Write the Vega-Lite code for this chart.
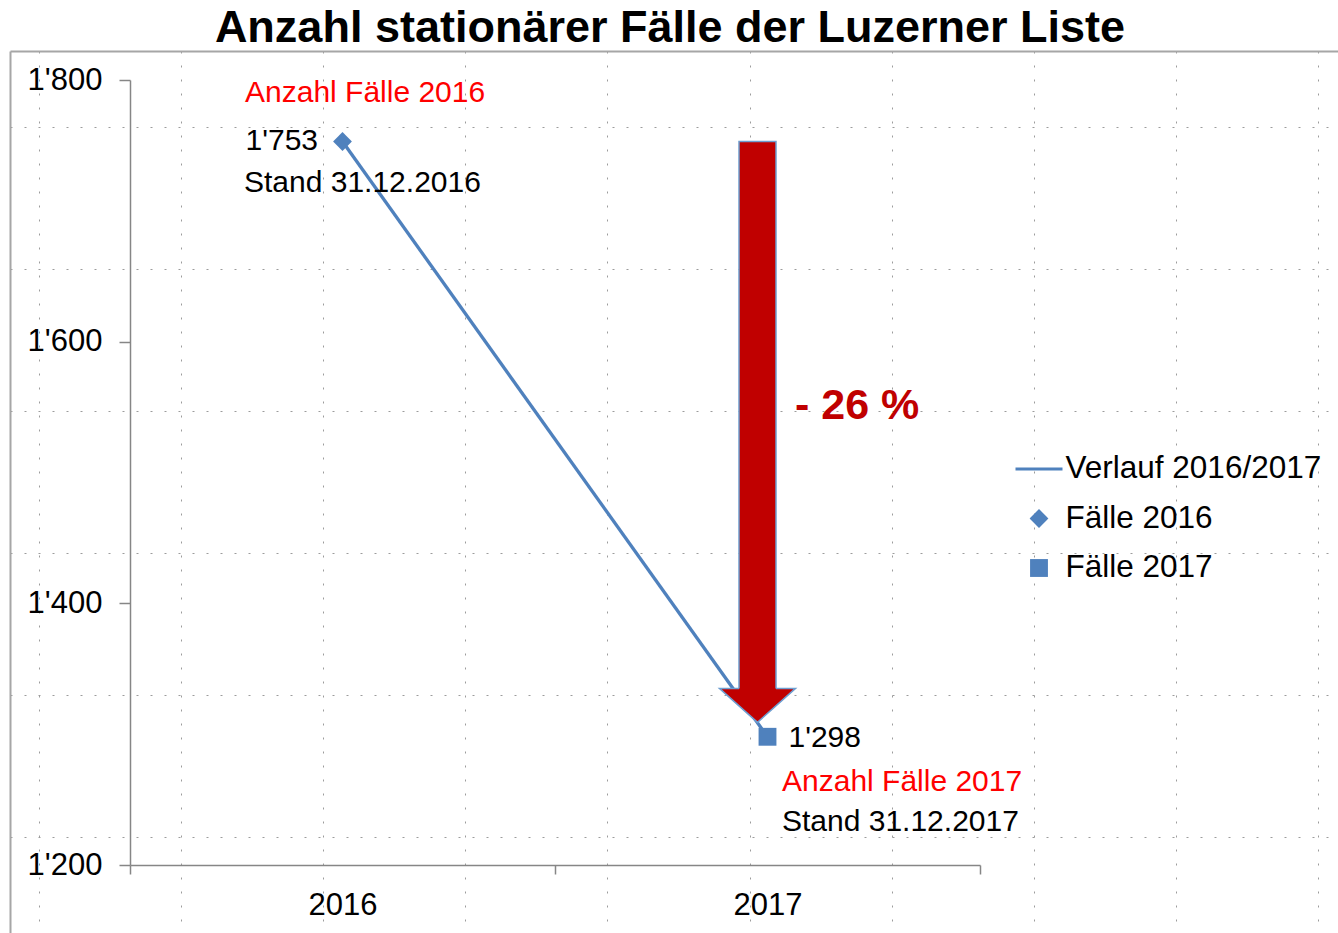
{
  "$schema": "https://vega.github.io/schema/vega-lite/v6.json",
  "width": 1328,
  "height": 882,
  "autosize": {"type": "none"},
  "padding": {"left": 10, "top": 51, "right": 0, "bottom": 0},
  "background": "white",
  "title": {"text": "Anzahl stationärer Fälle der Luzerner Liste", "font": "Liberation Sans", "fontSize": 45, "fontWeight": "bold", "color": "#000000", "anchor": "middle", "dx": -4, "dy": 35.5, "baseline": "alphabetic", "offset": 0},
  "datasets": {
    "paper": [{"col": 0, "row": 0}],
    "cases": [
      {"year": "2016", "cases": 1753, "series": "Fälle 2016", "heading": "Anzahl Fälle 2016", "stand": "Stand 31.12.2016"},
      {"year": "2017", "cases": 1298, "series": "Fälle 2017", "heading": "Anzahl Fälle 2017", "stand": "Stand 31.12.2017"}
    ],
    "arrow": [{"year": "2017", "start": 1753, "end": 1333, "tip": 1309, "label": "- 26 %"}]
  },
  "layer": [
    {
      "data": {"name": "paper"},
      "mark": {"type": "point", "opacity": 0},
      "encoding": {
        "x": {"field": "col", "type": "quantitative", "scale": {"domain": [-0.2041, 9.1414], "nice": false, "zero": false},
              "axis": {"orient": "top", "values": [0,1,2,3,4,5,6,7,8,9], "grid": true, "gridDash": [2, 12], "gridColor": "#9c9c9c", "gridWidth": 1, "labels": false, "ticks": false, "domain": true, "domainColor": "#a6a6a6", "domainWidth": 2, "title": null}},
        "y": {"field": "row", "type": "quantitative", "scale": {"domain": [-0.5352, 5.676], "nice": false, "zero": false, "reverse": true},
              "axis": {"orient": "left", "values": [0,1,2,3,4,5], "grid": true, "gridDash": [2, 12], "gridColor": "#9c9c9c", "gridWidth": 1, "labels": false, "ticks": false, "domain": true, "domainColor": "#a6a6a6", "domainWidth": 2, "title": null}}
      }
    },
    {
      "encoding": {
        "x": {"field": "year", "type": "nominal", "scale": {"type": "band", "domain": ["2016", "2017"], "range": [120, 970], "paddingInner": 0, "paddingOuter": 0},
              "axis": {"orient": "bottom", "offset": -68, "title": null, "labelAngle": 0, "tickBand": "extent", "tickSize": 9, "labelPadding": 16.5, "labelFontSize": 31, "labelFont": "Liberation Sans", "labelColor": "#000000", "domainColor": "#868686", "tickColor": "#868686", "domainWidth": 1.5, "tickWidth": 1.5, "grid": false}}
      },
      "layer": [
        {
          "data": {"name": "cases"},
          "mark": {"type": "line", "color": "#4F81BD", "strokeWidth": 3.3},
          "encoding": {
            "y": {"field": "cases", "type": "quantitative", "scale": {"domain": [1200, 1800], "range": [814, 29], "nice": false, "zero": false},
                  "axis": {"orient": "left", "offset": -120, "values": [1200, 1400, 1600, 1800], "format": ",d", "title": null, "tickSize": 11, "labelPadding": 17, "labelFontSize": 31, "labelFont": "Liberation Sans", "labelColor": "#000000", "domainColor": "#868686", "tickColor": "#868686", "domainWidth": 1.5, "tickWidth": 1.5, "grid": false}}
          }
        },
        {
          "data": {"name": "cases"},
          "mark": {"type": "point", "filled": true, "opacity": 1, "color": "#4F81BD", "size": 2209},
          "encoding": {
            "y": {"field": "cases", "type": "quantitative", "scale": {"domain": [1200, 1800], "range": [814, 29], "nice": false, "zero": false},
                  "axis": {"orient": "left", "offset": -120, "values": [1200, 1400, 1600, 1800], "format": ",d", "title": null, "tickSize": 11, "labelPadding": 17, "labelFontSize": 31, "labelFont": "Liberation Sans", "labelColor": "#000000", "domainColor": "#868686", "tickColor": "#868686", "domainWidth": 1.5, "tickWidth": 1.5, "grid": false}},
            "shape": {"field": "series", "type": "nominal",
                      "scale": {"domain": ["Verlauf 2016/2017", "Fälle 2016", "Fälle 2017"], "range": ["M-1,-0.068L1,-0.068L1,0.068L-1,0.068Z", "M0,-0.4L0.4,0L0,0.4L-0.4,0Z", "M-0.38,-0.38L0.38,-0.38L0.38,0.38L-0.38,0.38Z"]},
                      "legend": {"title": null, "orient": "none", "legendX": 1005.5, "legendY": 394.5, "padding": 0, "symbolSize": 2209, "labelOffset": 3, "rowPadding": 10.5, "labelFont": "Liberation Sans", "labelFontSize": 31.5, "labelColor": "#000000", "labelLimit": 400, "symbolFillColor": "#4F81BD", "symbolStrokeWidth": 0}}
          }
        },
        {
          "data": {"name": "arrow"},
          "mark": {"type": "bar", "width": 37, "xOffset": -10, "color": "#C00000", "stroke": "#6E9ED0", "strokeWidth": 1.5},
          "encoding": {
            "y": {"field": "start", "type": "quantitative", "scale": {"domain": [1200, 1800], "range": [814, 29], "nice": false, "zero": false},
                  "axis": {"orient": "left", "offset": -120, "values": [1200, 1400, 1600, 1800], "format": ",d", "title": null, "tickSize": 11, "labelPadding": 17, "labelFontSize": 31, "labelFont": "Liberation Sans", "labelColor": "#000000", "domainColor": "#868686", "tickColor": "#868686", "domainWidth": 1.5, "tickWidth": 1.5, "grid": false}},
            "y2": {"field": "end"}
          }
        },
        {
          "data": {"name": "arrow"},
          "mark": {"type": "point", "filled": true, "opacity": 1, "color": "#C00000", "stroke": "#6E9ED0", "strokeWidth": 1.5, "size": 5776, "xOffset": -10, "shape": "M-0.487,-0.895L-1,-0.895L0,0L1,-0.895L0.487,-0.895"},
          "encoding": {
            "y": {"field": "tip", "type": "quantitative", "scale": {"domain": [1200, 1800], "range": [814, 29], "nice": false, "zero": false},
                  "axis": {"orient": "left", "offset": -120, "values": [1200, 1400, 1600, 1800], "format": ",d", "title": null, "tickSize": 11, "labelPadding": 17, "labelFontSize": 31, "labelFont": "Liberation Sans", "labelColor": "#000000", "domainColor": "#868686", "tickColor": "#868686", "domainWidth": 1.5, "tickWidth": 1.5, "grid": false}}
          }
        },
        {
          "data": {"name": "arrow"},
          "mark": {"type": "text", "align": "left", "baseline": "alphabetic", "dx": 27.5, "dy": 278, "font": "Liberation Sans", "fontSize": 43, "fontWeight": "bold", "color": "#C00000"},
          "encoding": {
            "y": {"field": "start", "type": "quantitative", "scale": {"domain": [1200, 1800], "range": [814, 29], "nice": false, "zero": false},
                  "axis": {"orient": "left", "offset": -120, "values": [1200, 1400, 1600, 1800], "format": ",d", "title": null, "tickSize": 11, "labelPadding": 17, "labelFontSize": 31, "labelFont": "Liberation Sans", "labelColor": "#000000", "domainColor": "#868686", "tickColor": "#868686", "domainWidth": 1.5, "tickWidth": 1.5, "grid": false}},
            "text": {"field": "label"}
          }
        },
        {
          "data": {"name": "cases"},
          "transform": [{"filter": "datum.year === '2016'"}],
          "mark": {"type": "text", "align": "left", "baseline": "alphabetic", "dx": -97.5, "dy": -39.8, "font": "Liberation Sans", "fontSize": 30, "color": "#FF0000"},
          "encoding": {
            "y": {"field": "cases", "type": "quantitative", "scale": {"domain": [1200, 1800], "range": [814, 29], "nice": false, "zero": false},
                  "axis": {"orient": "left", "offset": -120, "values": [1200, 1400, 1600, 1800], "format": ",d", "title": null, "tickSize": 11, "labelPadding": 17, "labelFontSize": 31, "labelFont": "Liberation Sans", "labelColor": "#000000", "domainColor": "#868686", "tickColor": "#868686", "domainWidth": 1.5, "tickWidth": 1.5, "grid": false}},
            "text": {"field": "heading"}
          }
        },
        {
          "data": {"name": "cases"},
          "transform": [{"filter": "datum.year === '2016'"}],
          "mark": {"type": "text", "align": "right", "baseline": "alphabetic", "dx": -24.5, "dy": 8.5, "font": "Liberation Sans", "fontSize": 30, "color": "#000000"},
          "encoding": {
            "y": {"field": "cases", "type": "quantitative", "scale": {"domain": [1200, 1800], "range": [814, 29], "nice": false, "zero": false},
                  "axis": {"orient": "left", "offset": -120, "values": [1200, 1400, 1600, 1800], "format": ",d", "title": null, "tickSize": 11, "labelPadding": 17, "labelFontSize": 31, "labelFont": "Liberation Sans", "labelColor": "#000000", "domainColor": "#868686", "tickColor": "#868686", "domainWidth": 1.5, "tickWidth": 1.5, "grid": false}},
            "text": {"field": "cases", "type": "quantitative", "format": ",d"}
          }
        },
        {
          "data": {"name": "cases"},
          "transform": [{"filter": "datum.year === '2016'"}],
          "mark": {"type": "text", "align": "left", "baseline": "alphabetic", "dx": -98.5, "dy": 50.5, "font": "Liberation Sans", "fontSize": 30, "color": "#000000"},
          "encoding": {
            "y": {"field": "cases", "type": "quantitative", "scale": {"domain": [1200, 1800], "range": [814, 29], "nice": false, "zero": false},
                  "axis": {"orient": "left", "offset": -120, "values": [1200, 1400, 1600, 1800], "format": ",d", "title": null, "tickSize": 11, "labelPadding": 17, "labelFontSize": 31, "labelFont": "Liberation Sans", "labelColor": "#000000", "domainColor": "#868686", "tickColor": "#868686", "domainWidth": 1.5, "tickWidth": 1.5, "grid": false}},
            "text": {"field": "stand"}
          }
        },
        {
          "data": {"name": "cases"},
          "transform": [{"filter": "datum.year === '2017'"}],
          "mark": {"type": "text", "align": "left", "baseline": "alphabetic", "dx": 21, "dy": 10.7, "font": "Liberation Sans", "fontSize": 30, "color": "#000000"},
          "encoding": {
            "y": {"field": "cases", "type": "quantitative", "scale": {"domain": [1200, 1800], "range": [814, 29], "nice": false, "zero": false},
                  "axis": {"orient": "left", "offset": -120, "values": [1200, 1400, 1600, 1800], "format": ",d", "title": null, "tickSize": 11, "labelPadding": 17, "labelFontSize": 31, "labelFont": "Liberation Sans", "labelColor": "#000000", "domainColor": "#868686", "tickColor": "#868686", "domainWidth": 1.5, "tickWidth": 1.5, "grid": false}},
            "text": {"field": "cases", "type": "quantitative", "format": ",d"}
          }
        },
        {
          "data": {"name": "cases"},
          "transform": [{"filter": "datum.year === '2017'"}],
          "mark": {"type": "text", "align": "left", "baseline": "alphabetic", "dx": 14.5, "dy": 54.7, "font": "Liberation Sans", "fontSize": 30, "color": "#FF0000"},
          "encoding": {
            "y": {"field": "cases", "type": "quantitative", "scale": {"domain": [1200, 1800], "range": [814, 29], "nice": false, "zero": false},
                  "axis": {"orient": "left", "offset": -120, "values": [1200, 1400, 1600, 1800], "format": ",d", "title": null, "tickSize": 11, "labelPadding": 17, "labelFontSize": 31, "labelFont": "Liberation Sans", "labelColor": "#000000", "domainColor": "#868686", "tickColor": "#868686", "domainWidth": 1.5, "tickWidth": 1.5, "grid": false}},
            "text": {"field": "heading"}
          }
        },
        {
          "data": {"name": "cases"},
          "transform": [{"filter": "datum.year === '2017'"}],
          "mark": {"type": "text", "align": "left", "baseline": "alphabetic", "dx": 14.5, "dy": 94.7, "font": "Liberation Sans", "fontSize": 30, "color": "#000000"},
          "encoding": {
            "y": {"field": "cases", "type": "quantitative", "scale": {"domain": [1200, 1800], "range": [814, 29], "nice": false, "zero": false},
                  "axis": {"orient": "left", "offset": -120, "values": [1200, 1400, 1600, 1800], "format": ",d", "title": null, "tickSize": 11, "labelPadding": 17, "labelFontSize": 31, "labelFont": "Liberation Sans", "labelColor": "#000000", "domainColor": "#868686", "tickColor": "#868686", "domainWidth": 1.5, "tickWidth": 1.5, "grid": false}},
            "text": {"field": "stand"}
          }
        }
      ]
    }
  ],
  "resolve": {"scale": {"x": "independent", "y": "independent"}, "axis": {"x": "independent", "y": "independent"}},
  "config": {
    "view": {"stroke": null},
    "font": "Liberation Sans",
    "locale": {"number": {"decimal": ".", "thousands": "'", "grouping": [3], "currency": ["", ""]}}
  }
}
